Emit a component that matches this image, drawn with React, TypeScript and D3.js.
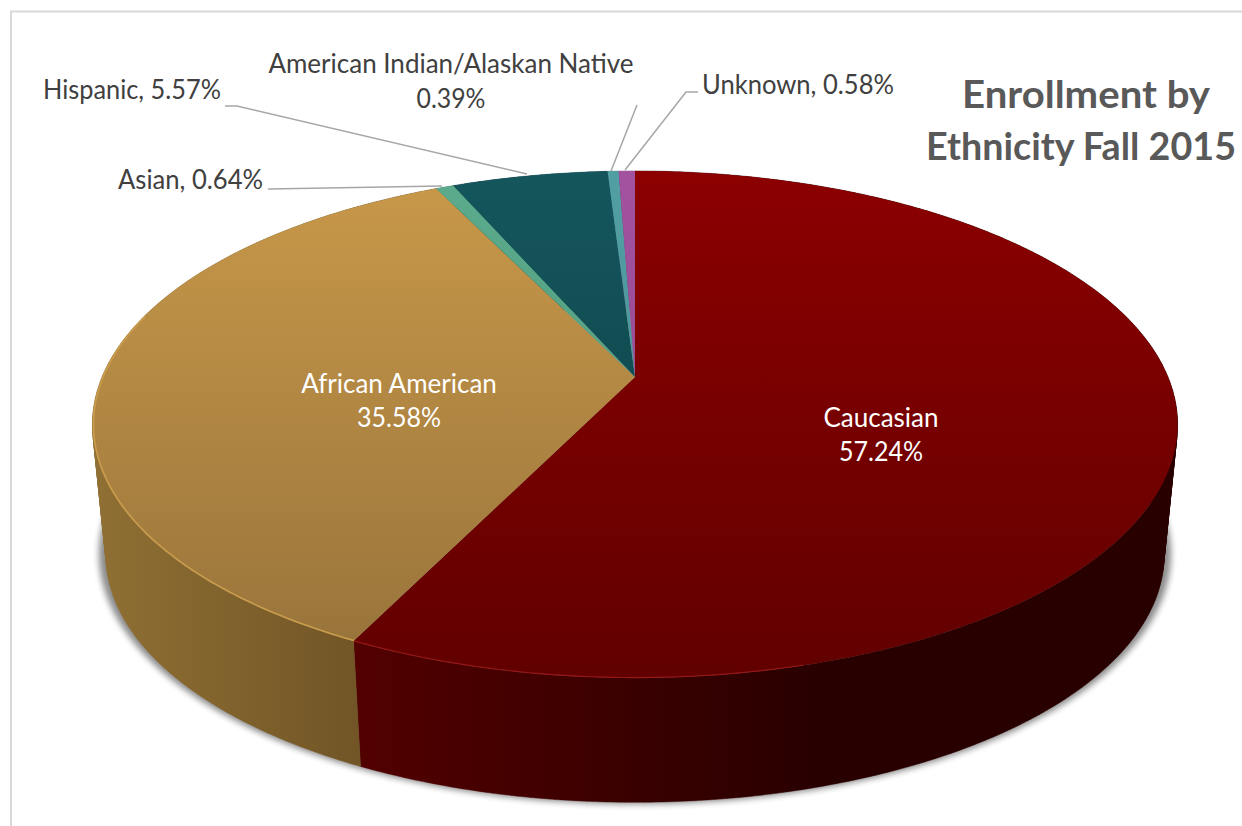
import * as d3 from "d3";

const categories = ["Caucasian", "African American", "Asian", "Hispanic", "American Indian/Alaskan Native", "Unknown"];
const shares = [57.24, 35.58, 0.64, 5.57, 0.39, 0.58];
const shareLabels = ["57.24%", "35.58%", "0.64%", "5.57%", "0.39%", "0.58%"];
const topStops = [
  ["#8c0000", "#610000"],
  ["#c9994a", "#96723a"],
  ["#5bab8c", "#4c9477"],
  ["#14565c", "#0b3f44"],
  ["#529fa3", "#468b8e"],
  ["#a2529f", "#8f468c"],
];
const sideStops = [
  ["#520000", "#280000"],
  ["#8f6f33", "#715526"],
  ["#3c7a62", "#3c7a62"],
  ["#0b3f44", "#0b3f44"],
  ["#3c7a7a", "#3c7a7a"],
  ["#703570", "#703570"],
];

const W = 1242;
const H = 826;
const FONT = "Lato, 'Open Sans', sans-serif";

// perspective of the disc: c < 0 makes the near edge bigger
const cx = 635;
const persp = -0.187;
const radiusX = 533;
const radiusY = 244.6;

const project = (a: number, cy: number, k: number): [number, number] => {
  const s = Math.sin(a);
  const t = -Math.cos(a);
  const w = 1 + persp * t;
  return [cx + (k * radiusX * s) / w, cy + (k * radiusY * t) / w];
};

const TOP_Y = 377;
const BASE_Y = 509;
const BASE_K = 0.975;

const line = d3.line();
const arcs = d3.pie<number>().sort(null).startAngle(0).endAngle(2 * Math.PI)(shares);

const arcPts = (a0: number, a1: number, cy: number, k: number) => {
  const n = Math.max(2, Math.ceil((a1 - a0) / 0.01));
  return d3.range(n + 1).map((i) => project(a0 + ((a1 - a0) * i) / n, cy, k));
};

const wedge = (a0: number, a1: number) => line([[cx, TOP_Y], ...arcPts(a0, a1, TOP_Y, 1)])! + "Z";

// side wall as small quads, all wound the same way so the fold at the extremes stays filled
const band = (a0: number, a1: number) => {
  const up = arcPts(a0, a1, TOP_Y, 1);
  const down = arcPts(a0, a1, BASE_Y, BASE_K);
  return d3
    .range(up.length - 1)
    .map((i) => {
      const q = [up[i], up[i + 1], down[i + 1], down[i]];
      if (d3.polygonArea(q) < 0) q.reverse();
      return line(q)! + "Z";
    })
    .join("");
};

const fullCircle = 2 * Math.PI;
const shadowPath = line(arcPts(0, fullCircle, 507, 0.988))! + "Z";

const deg = (v: number) => (v * Math.PI) / 180;

// annotation layout, leader lines run from label to slice
const leaders: [number, number][][] = [
  [[268, 189], [442, 186]],
  [[225, 106], [237, 106], [527, 174]],
  [[637, 105], [611, 171]],
  [[698, 92], [686, 92], [625, 170]],
];

const txt = { fontFamily: FONT, fontSize: 26 };
const fit = { lengthAdjust: "spacingAndGlyphs" as const };

export default function App() {
  return (
    <svg
      width={W}
      height={H}
      viewBox={`0 0 ${W} ${H}`}
      style={{ position: "fixed", left: 0, top: 0, background: "#fff" }}
    >
      <defs>
        <filter id="soft" x="-5%" y="-5%" width="110%" height="110%">
          <feGaussianBlur stdDeviation="3" />
        </filter>
        {arcs.map((d, i) => (
          <g key={i}>
            <linearGradient id={`top${i}`} gradientUnits="userSpaceOnUse" x1={0} x2={0} y1={171} y2={678}>
              <stop offset="0" stopColor={topStops[i][0]} />
              <stop offset="1" stopColor={topStops[i][1]} />
            </linearGradient>
            <linearGradient
              id={`side${i}`}
              gradientUnits="userSpaceOnUse"
              x1={i === 0 ? 355 : 100}
              x2={i === 0 ? 830 : 362}
              y1={0}
              y2={0}
            >
              <stop offset="0" stopColor={sideStops[i][0]} />
              <stop offset="1" stopColor={sideStops[i][1]} />
            </linearGradient>
          </g>
        ))}
      </defs>

      <path d={`M${W},11.5H11V${H}`} fill="none" stroke="#d9d9d9" strokeWidth={2} />

      <path d={shadowPath} fill="#000" opacity={0.45} filter="url(#soft)" />

      {arcs.map((d, i) => (
        <path key={i} d={band(d.startAngle, d.endAngle)} fill={`url(#side${i})`} stroke={`url(#side${i})`} strokeWidth={0.4} />
      ))}
      {arcs.map((d, i) => (
        <path key={i} d={wedge(d.startAngle, d.endAngle)} fill={`url(#top${i})`} />
      ))}
      {/* lit rim on the near top edge */}
      <path d={line(arcPts(deg(165), arcs[0].endAngle, TOP_Y, 0.999))!} fill="none" stroke="#a01a1a" strokeWidth={1.2} opacity={0.8} />
      <path d={line(arcPts(arcs[1].startAngle, deg(285), TOP_Y, 0.998))!} fill="none" stroke="#c99c4c" strokeWidth={1.6} />

      {leaders.map((pts, i) => (
        <path key={i} d={line(pts)!} fill="none" stroke="#a6a6a6" strokeWidth={1.5} />
      ))}

      <g {...txt} fill="#fff" textAnchor="middle">
        <text x={399} y={393}>{categories[1]}</text>
        <text x={399} y={427} textLength={84} {...fit}>{shareLabels[1]}</text>
        <text x={881} y={427}>{categories[0]}</text>
        <text x={881} y={461} textLength={84} {...fit}>{shareLabels[0]}</text>
      </g>

      <g {...txt} fill="#404040">
        <text x={118} y={189} textLength={145} {...fit}>{`${categories[2]}, ${shareLabels[2]}`}</text>
        <text x={43} y={99} textLength={178} {...fit}>{`${categories[3]}, ${shareLabels[3]}`}</text>
        <text x={451} y={73} textAnchor="middle">{categories[4]}</text>
        <text x={451} y={108} textAnchor="middle" textLength={69} {...fit}>{shareLabels[4]}</text>
        <text x={702} y={94} textLength={192} {...fit}>{`${categories[5]}, ${shareLabels[5]}`}</text>
      </g>

      <g fontFamily={FONT} fontSize={38} fontWeight={700} fill="#595959" textAnchor="middle">
        <text x={1086} y={108} textLength={248} {...fit}>Enrollment by</text>
        <text x={1081} y={160} textLength={310} {...fit}>Ethnicity Fall 2015</text>
      </g>
    </svg>
  );
}
